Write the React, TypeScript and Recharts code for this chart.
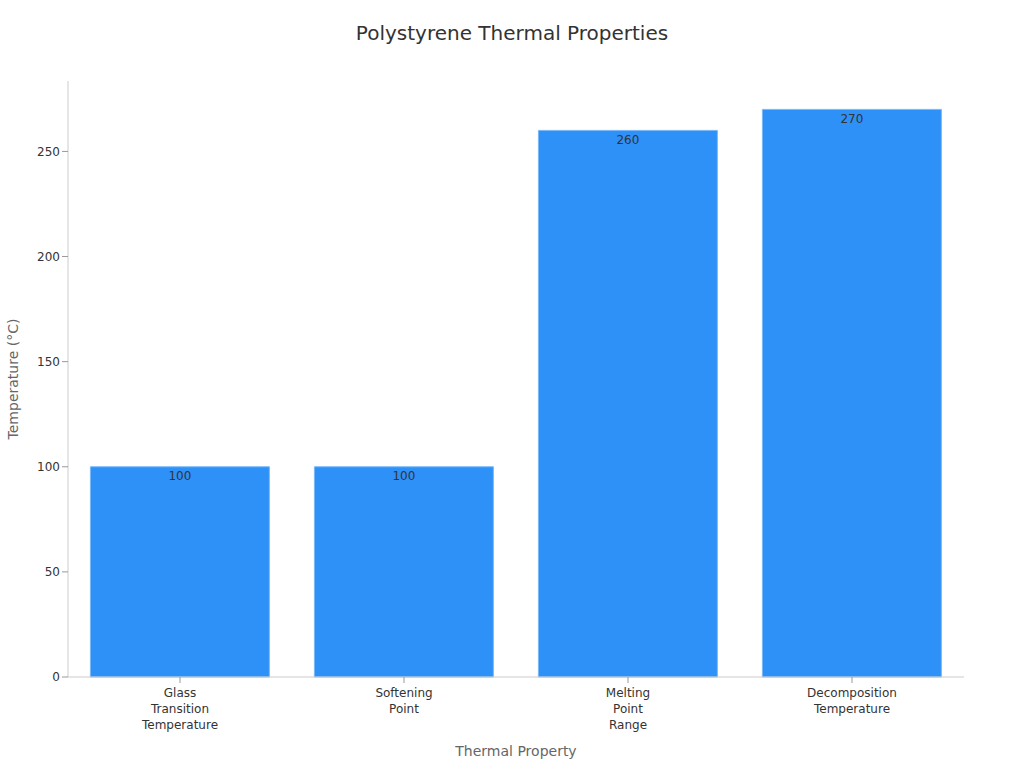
import React from 'react'
import {
  BarChart,
  Bar,
  XAxis,
  YAxis,
  LabelList,
} from 'recharts'

const categories = [
  'Glass Transition Temperature',
  'Softening Point',
  'Melting Point Range',
  'Decomposition Temperature',
]
const temperatures = [100, 100, 260, 270]
const yTicks = [0, 50, 100, 150, 200, 250]

const data = categories.map((name, i) => ({ name, value: temperatures[i] }))

const FONT = '"DejaVu Sans", Verdana, sans-serif'

// one word per line, like the reference
const WrappedTick = (props: any) => {
  const { x, y, payload } = props
  const words = String(payload.value).split(' ')
  return (
    <g transform={`translate(${x},${y})`}>
      <text textAnchor="middle" fill="#333" fontSize={12} fontFamily={FONT}>
        {words.map((w, i) => (
          <tspan key={i} x={0} dy={i === 0 ? 12 : 16}>
            {w}
          </tspan>
        ))}
      </text>
    </g>
  )
}

const YTitle = (props: any) => {
  const { viewBox } = props
  const cy = viewBox.y + viewBox.height / 2
  return (
    <text
      x={13}
      y={cy}
      transform={`rotate(-90, 13, ${cy})`}
      textAnchor="middle"
      dominantBaseline="central"
      fill="#666"
      fontSize={14}
      fontFamily={FONT}
    >
      Temperature (°C)
    </text>
  )
}

const XTitle = (props: any) => {
  const { viewBox } = props
  return (
    <text
      x={viewBox.x + viewBox.width / 2}
      y={751}
      textAnchor="middle"
      dominantBaseline="central"
      fill="#666"
      fontSize={14}
      fontFamily={FONT}
    >
      Thermal Property
    </text>
  )
}

export default function App() {
  return (
    <div style={{ position: 'absolute', left: 0, top: 0, width: 1024, height: 768, background: '#fff' }}>
      <div
        style={{
          position: 'absolute',
          left: 0,
          top: 20,
          width: 1024,
          textAlign: 'center',
          fontFamily: FONT,
          fontSize: 20,
          color: '#333',
          lineHeight: '26px',
        }}
      >
        Polystyrene Thermal Properties
      </div>
      <BarChart
        width={1024}
        height={768}
        data={data}
        margin={{ top: 81, right: 60, bottom: 31, left: 0 }}
        barCategoryGap="10%"
      >
        <XAxis
          dataKey="name"
          interval={0}
          height={60}
          tick={<WrappedTick />}
          tickSize={6}
          axisLine={{ stroke: '#ccc' }}
          tickLine={{ stroke: '#999' }}
          label={<XTitle />}
        />
        <YAxis
          width={68}
          domain={[0, 283.5]}
          ticks={yTicks}
          tickSize={6}
          axisLine={{ stroke: '#ccc' }}
          tickLine={{ stroke: '#999' }}
          tick={{ fill: '#333', fontSize: 12, fontFamily: FONT }}
          label={<YTitle />}
        />
        <Bar
          dataKey="value"
          fill="#2e91f7"
          stroke="#7ab8f8"
          strokeWidth={1}
          isAnimationActive={false}
        >
          <LabelList
            dataKey="value"
            position="insideTop"
            offset={5}
            fill="#333"
            fontSize={12}
            fontFamily={FONT}
          />
        </Bar>
      </BarChart>
    </div>
  )
}
